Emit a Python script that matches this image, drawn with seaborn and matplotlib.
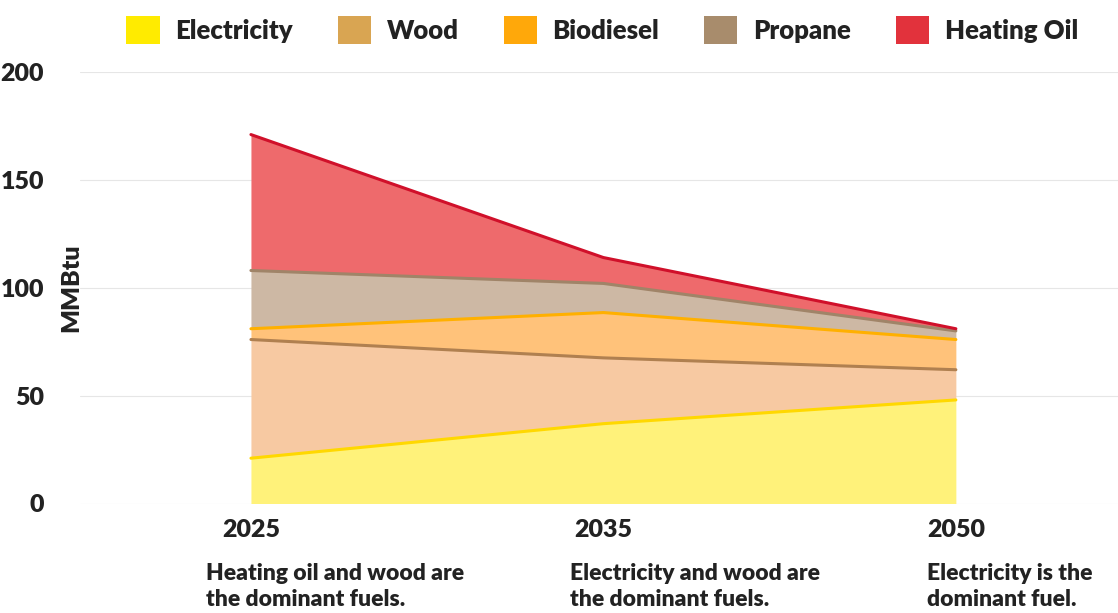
import matplotlib
matplotlib.use("Agg")
import matplotlib.pyplot as plt
import seaborn as sns
import numpy as np
import pandas as pd
from matplotlib.patches import Patch

years = ["2025", "2035", "2050"]
notes = ["Heating oil and wood are\nthe dominant fuels.",
         "Electricity and wood are\nthe dominant fuels.",
         "Electricity is the\ndominant fuel."]
fuels = ["Electricity", "Wood", "Biodiesel", "Propane", "Heating Oil"]
electricity = [21, 37, 48]
wood = [55, 30.5, 14]
biodiesel = [5, 21, 14]
propane = [27, 13.5, 4]
heating_oil = [63, 12, 1]

swatch = ["#FFEB00", "#D9A552", "#FFA80A", "#A88C6C", "#E2323C"]
fills = ["#FFF27A", "#F7C9A2", "#FFC27A", "#CDB8A4", "#EE6A6C"]
edges = ["#FFD800", "#B08050", "#FFB000", "#A08468", "#D0102A"]
note_dx = [-32.5, -24, -20.5]  # text offsets in points

sns.set_theme(style="whitegrid")
plt.rcParams["font.family"] = ["Lato", "DejaVu Sans"]
W = "heavy"

df = pd.DataFrame({"year": years, "Electricity": electricity, "Wood": wood,
                   "Biodiesel": biodiesel, "Propane": propane, "Heating Oil": heating_oil})

fig = plt.figure(figsize=(11.18, 6.13), dpi=100)
ax = fig.add_axes([80/1118, 1-503.5/613, 1-80/1118, (503.5-72)/613])

x = np.arange(len(years))
base = np.zeros(len(years))
for i, f in enumerate(fuels):
    top = base + df[f].to_numpy()
    ax.fill_between(x, base, top, color=fills[i], linewidth=0, zorder=2)
    sns.lineplot(x=x, y=top, ax=ax, color=edges[i], linewidth=2.2, zorder=3)
    base = top

ax.set_xlim(-0.485, 2.46)
ax.set_ylim(0, 200)
ax.set_yticks([0, 50, 100, 150, 200])
ax.set_xticks(x)
ax.set_xticklabels(years, fontsize=18, fontweight=W, color="#222222")
ax.tick_params(axis="x", pad=11, length=0)
ax.tick_params(axis="y", labelsize=18, labelcolor="#222222", pad=26, length=0)
for lbl in ax.get_yticklabels():
    lbl.set_fontweight(W)
ax.set_ylabel("MMBtu", fontsize=18, fontweight=W, color="#222222")
ax.yaxis.set_label_coords(0.002, 0.5)
ax.grid(axis="x", visible=False)
ax.grid(axis="y", color="#e6e6e6", linewidth=0.8)
for s in ax.spines.values():
    s.set_visible(False)

for i, n in enumerate(notes):
    ax.annotate(n, xy=(x[i], 0), xycoords="data", xytext=(note_dx[i], -43),
                textcoords="offset points", ha="left", va="top",
                fontsize=16.5, fontweight=W, color="#222222",
                linespacing=1.3, annotation_clip=False)

handles = [Patch(facecolor=swatch[i], edgecolor="none", label=f) for i, f in enumerate(fuels)]
leg = fig.legend(handles=handles, loc="center", bbox_to_anchor=(0.5385, 0.951), ncol=5,
                 frameon=False, handlelength=1.3, handleheight=1.3, columnspacing=1.75,
                 handletextpad=0.6, prop={"size": 18.5, "weight": W})
for t in leg.get_texts():
    t.set_color("#222222")

fig.savefig("out.png", dpi=100)
